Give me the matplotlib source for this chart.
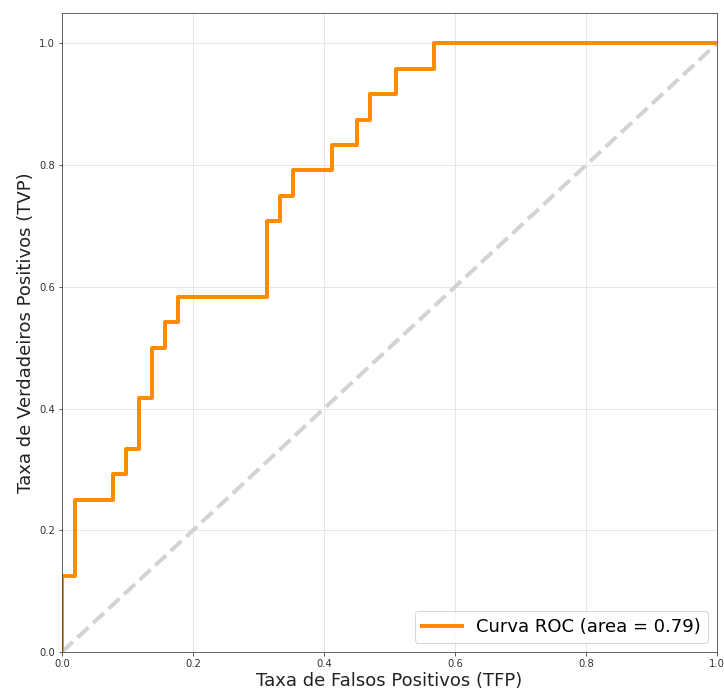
import matplotlib
matplotlib.use("Agg")
import matplotlib.pyplot as plt

# ROC curve points (false positive rate, true positive rate)
fpr = [0.0, 0.0, 0.0196, 0.0196, 0.0784, 0.0784, 0.0980, 0.0980, 0.1176, 0.1176,
       0.1373, 0.1373, 0.1569, 0.1569, 0.1765, 0.1765, 0.3137, 0.3137, 0.3333, 0.3333,
       0.3529, 0.3529, 0.4118, 0.4118, 0.4510, 0.4510, 0.4706, 0.4706, 0.5098, 0.5098,
       0.5686, 0.5686, 1.0]
tpr = [0.0, 0.125, 0.125, 0.25, 0.25, 0.2917, 0.2917, 0.3333, 0.3333, 0.4167,
       0.4167, 0.5, 0.5, 0.5417, 0.5417, 0.5833, 0.5833, 0.7083, 0.7083, 0.75,
       0.75, 0.7917, 0.7917, 0.8333, 0.8333, 0.875, 0.875, 0.9167, 0.9167, 0.9583,
       0.9583, 1.0, 1.0]
roc_auc = 0.79

fig = plt.figure(figsize=(724/72, 691/72), dpi=72)
ax = fig.add_axes([62/724, 1 - 652/691, (717 - 62)/724, (652 - 13)/691])

ax.plot([0, 1], [0, 1], color="lightgray", lw=4, linestyle="--")
ax.plot(fpr, tpr, color="darkorange", lw=4, label="Curva ROC (area = %0.2f)" % roc_auc)

ax.set_xlim(0.0, 1.0)
ax.set_ylim(0.0, 1.05)
ax.grid(color="#e6e6e6", linewidth=1)
ax.set_axisbelow(True)
ax.tick_params(labelsize=10, colors="#333333")
for s in ax.spines.values():
    s.set_color("#444444")
ax.set_xlabel("Taxa de Falsos Positivos (TFP)", fontsize=18, color="#222222", labelpad=3)
ax.set_ylabel("Taxa de Verdadeiros Positivos (TVP)", fontsize=18, color="#222222")
ax.legend(loc="lower right", fontsize=18, handlelength=2.2)

fig.savefig("out.png", dpi=72)
